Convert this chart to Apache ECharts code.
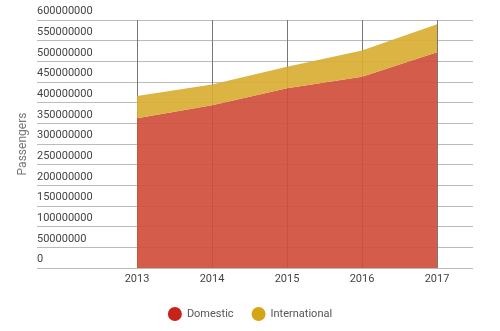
<!DOCTYPE html>
<html>
<head>
<meta charset="utf-8">
<script src="https://cdn.jsdelivr.net/npm/echarts@6/dist/echarts.min.js"></script>
<style>
html,body{margin:0;padding:0;background:#fff;}
#c{width:500px;height:331px;}
</style>
</head>
<body>
<div id="c"></div>
<script>
var years = ['2013', '2014', '2015', '2016', '2017'];
var domestic = [362000000, 394000000, 435000000, 463000000, 522000000];
var international = [54000000, 50000000, 52000000, 63000000, 68000000];
var yMax = 600000000;
var yStep = 50000000;

var chart = echarts.init(document.getElementById('c'), null, {renderer: 'canvas'});
chart.setOption({
  backgroundColor: '#ffffff',
  animation: false,
  textStyle: {fontFamily: 'Roboto, sans-serif'},
  grid: [
    {left: 37, right: 27, top: 20, bottom: 63},
    {left: 137, right: 63, top: 20, bottom: 63}
  ],
  xAxis: [
    {gridIndex: 0, type: 'value', show: false, min: 0, max: 1},
    {
      gridIndex: 1, type: 'category', data: years, boundaryGap: false,
      axisLine: {show: false}, axisTick: {show: false},
      axisLabel: {color: '#444', fontSize: 11, margin: 6},
      splitLine: {show: true, lineStyle: {color: '#777', width: 1}}
    }
  ],
  yAxis: [
    {
      gridIndex: 0, type: 'value', min: 0, max: yMax, interval: yStep,
      name: 'Passengers', nameLocation: 'middle', nameRotate: 90, nameGap: 8,
      nameMoveOverlap: false,
      nameTextStyle: {color: '#777', fontSize: 12},
      axisLine: {show: false}, axisTick: {show: false},
      axisLabel: {inside: true, align: 'left', verticalAlign: 'bottom', margin: 0,
        padding: [0, 0, 3, 0], color: '#444', fontSize: 11,
        formatter: function (v) { return String(v); }},
      splitLine: {lineStyle: {color: '#bbb', width: 1}}
    },
    {gridIndex: 1, type: 'value', min: 0, max: yMax, show: false, splitLine: {show: false}}
  ],
  legend: {
    bottom: 5, left: 'center', icon: 'circle', itemWidth: 14, itemHeight: 14, itemGap: 18,
    textStyle: {color: '#555', fontSize: 11},
    data: ['Domestic', 'International']
  },
  series: [
    {
      name: 'Domestic', type: 'line', stack: 'total', xAxisIndex: 1, yAxisIndex: 1,
      data: domestic, symbol: 'none', lineStyle: {width: 0},
      itemStyle: {color: '#c8231b'},
      areaStyle: {color: '#d04e3c', opacity: 0.92}
    },
    {
      name: 'International', type: 'line', stack: 'total', xAxisIndex: 1, yAxisIndex: 1,
      data: international, symbol: 'none', lineStyle: {width: 0},
      itemStyle: {color: '#d4a514'},
      areaStyle: {color: '#d8ae33', opacity: 0.92}
    }
  ]
});
</script>
</body>
</html>
